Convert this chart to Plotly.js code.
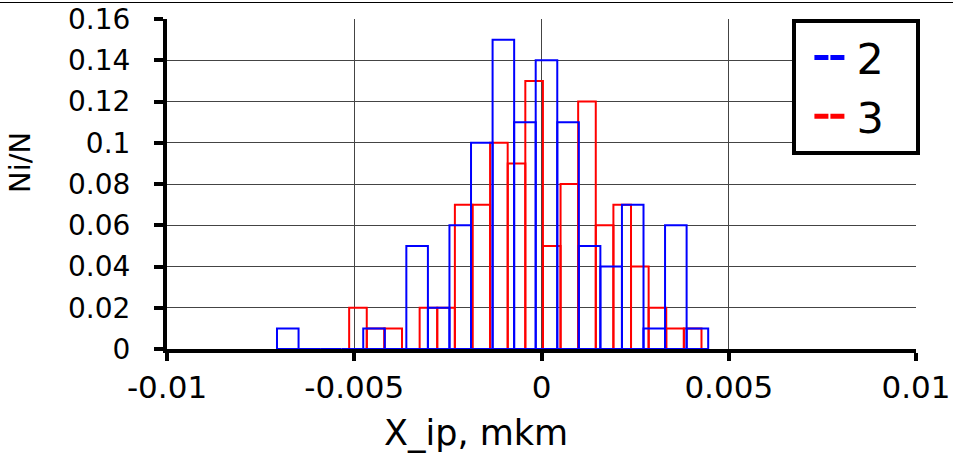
<!DOCTYPE html>
<html><head><meta charset="utf-8">
<script src="https://cdn.plot.ly/plotly-3.0.1.min.js"></script>
<style>
html,body{margin:0;padding:0;background:#fff;}
#chart{width:953px;height:453px;}
#topline{position:absolute;left:0;top:2px;width:953px;height:1px;background:#000;z-index:10;}
</style>
</head><body>
<div id="chart"></div><div id="topline"></div>
<script>
// Series "2" (blue): bin centres and relative frequency Ni/N
const binCenters2 = [-0.006775, -0.006199, -0.005624, -0.005048, -0.004472, -0.003897, -0.003321, -0.002745, -0.002170, -0.001594,
                     -0.001018, -0.000443, 0.000133, 0.000709, 0.001284, 0.001860, 0.002436, 0.003011, 0.003587, 0.004163];
const ratio2 = [0.01, 0, 0, 0, 0.01, 0, 0.05, 0.02, 0.06, 0.10,
                0.15, 0.11, 0.14, 0.11, 0.05, 0.04, 0.07, 0.01, 0.06, 0.01];
// Series "3" (red)
const binCenters3 = [-0.004901, -0.004430, -0.003960, -0.003490, -0.003019, -0.002549, -0.002078, -0.001608, -0.001138, -0.000667,
                     -0.000197, 0.000274, 0.000744, 0.001214, 0.001685, 0.002155, 0.002626, 0.003096, 0.003566, 0.004037];
const ratio3 = [0.02, 0.01, 0.01, 0, 0.02, 0.02, 0.07, 0.07, 0.10, 0.09,
                0.13, 0.05, 0.08, 0.12, 0.06, 0.07, 0.04, 0.02, 0.01, 0.01];
const seriesNames = ['2', '3'];
const xTickVals = [-0.01, -0.005, 0, 0.005, 0.01];
const xTickText = ['-0.01', '-0.005', '0', '0.005', '0.01'];
const yTickVals = [0, 0.02, 0.04, 0.06, 0.08, 0.1, 0.12, 0.14, 0.16];
const yTickText = ['0', '0.02', '0.04', '0.06', '0.08', '0.1', '0.12', '0.14', '0.16'];
const xTitle = 'X_ip, mkm';
const yTitle = 'Ni/N';

const FONT = 'DejaVu Sans, Liberation Sans, Arial, sans-serif';
const BLUE = '#0000ff', RED = '#ff0000';
const PAD = '\u00a0\u00a0'; // right padding inside the legend box
const LEGEND_DASH = '0px,13px,14px,2px,14px,200px';

const traces = [
  {type:'bar', x: binCenters3, y: ratio3, width: 0.00047, name: seriesNames[1], showlegend:false, hoverinfo:'skip',
   marker:{color:'rgba(0,0,0,0)', line:{color:RED, width:2}}},
  {type:'bar', x: binCenters2, y: ratio2, width: 0.000576, name: seriesNames[0], showlegend:false, hoverinfo:'skip',
   marker:{color:'rgba(0,0,0,0)', line:{color:BLUE, width:2}}},
  {type:'scatter', mode:'lines', x:[null], y:[null], name: seriesNames[0] + PAD, line:{color:BLUE, width:5, dash:LEGEND_DASH}},
  {type:'scatter', mode:'lines', x:[null], y:[null], name: seriesNames[1] + PAD, line:{color:RED, width:5, dash:LEGEND_DASH}}
];

const axisCommon = {
  showgrid:true, gridcolor:'#444', gridwidth:1, zeroline:false,
  showline:true, linecolor:'#000', linewidth:4,
  ticks:'outside', tickwidth:4, tickcolor:'#000',
  tickmode:'array', fixedrange:true
};

const layout = {
  width:953, height:453,
  margin:{l:167, r:37, t:19, b:104, pad:0},
  paper_bgcolor:'#fff', plot_bgcolor:'#fff',
  barmode:'overlay', bargap:0,
  font:{family:FONT, color:'#000'},
  xaxis: Object.assign({}, axisCommon, {range:[-0.01, 0.01], tickvals:xTickVals, ticktext:xTickText, ticklen:8,
    tickfont:{family:FONT, size:31, color:'#000'}}),
  yaxis: Object.assign({}, axisCommon, {range:[0, 0.16], tickvals:yTickVals, ticktext:yTickText, ticklen:9,
    ticklabelstandoff:18, tickfont:{family:FONT, size:28, color:'#000'}}),
  legend:{x:0.835, xanchor:'left', y:1, yanchor:'top', bgcolor:'#fff', bordercolor:'#000', borderwidth:4,
    itemwidth:50, font:{family:FONT, size:43, color:'#000'}},
  annotations:[
    {text:xTitle, xref:'paper', yref:'paper', x:0.412, y:-0.2545, xanchor:'center', yanchor:'middle', showarrow:false,
     font:{family:FONT, size:35, color:'#000'}},
    {text:yTitle, xref:'paper', yref:'paper', x:-0.197, y:0.565, xanchor:'center', yanchor:'middle', showarrow:false, textangle:-90,
     font:{family:FONT, size:29, color:'#000'}}
  ],
  showlegend:true
};

Plotly.newPlot('chart', traces, layout, {displayModeBar:false, staticPlot:true});
</script>
</body></html>
